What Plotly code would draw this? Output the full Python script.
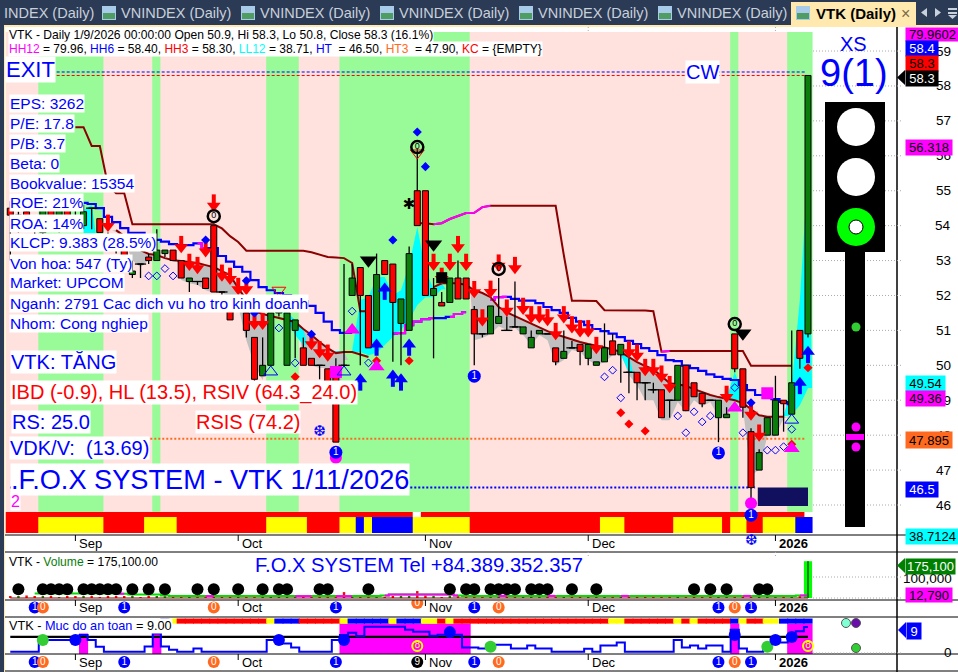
import plotly.graph_objects as go

N = 99
FONT = "Liberation Sans"
# ---- OHLC (top row of each block = bars 0-9 etc.)
opens = [54.5,53.9,54.4,54.0,53.8,54.6,53.9,54.5,54.1,54.0,
 54.5,54.2,53.7,53.5,53.3,52.6,52.9,53.1,53.0,53.2,
 53.3,53.0,52.4,52.4,52.5,54.0,52.1,51.9,51.7,51.5,
 50.8,49.7,50.0,51.5,50.0,51.0,50.5,50.2,50.0,49.9,
 49.9,50.0,52.0,52.8,52.0,51.0,53.0,52.9,51.2,51.0,
 55.0,55.0,52.0,51.8,51.8,52.5,52.5,51.6,50.9,50.9,
 51.2,51.0,51.1,50.9,50.5,50.9,50.9,50.5,50.2,50.5,
 50.6,50.2,50.0,50.1,50.7,50.3,49.8,49.8,49.5,49.3,
 49.3,49.0,49.0,50.0,49.5,49.2,49.0,48.5,48.5,50.9,
 49.9,48.1,47.0,48.0,48.0,49.0,48.6,51.0,50.9]
highs = [54.7,54.4,54.5,54.3,54.7,54.7,54.6,54.7,54.5,54.6,
 54.5,54.2,53.8,53.6,53.4,53.0,52.9,53.2,53.9,53.3,
 53.3,53.0,52.5,52.4,52.5,54.0,52.1,52.0,51.9,51.5,
 50.8,50.8,51.5,51.6,51.5,51.3,50.8,50.2,50.0,49.9,
 50.2,52.9,52.9,52.8,52.0,53.2,53.0,52.9,51.9,53.4,
 56.2,55.0,52.5,52.1,52.5,53.0,52.5,51.7,50.9,51.7,
 52.5,51.4,52.4,51.1,51.0,51.0,50.9,50.5,51.0,50.7,
 50.6,50.6,50.1,51.2,50.9,50.6,50.2,49.8,49.5,49.5,
 49.3,49.0,50.0,50.0,49.5,49.2,49.0,49.0,48.8,50.9,
 49.9,48.2,47.6,48.5,49.7,49.0,51.0,51.0,58.3]
lows = [53.0,53.8,53.9,53.7,53.7,53.9,53.8,54.0,53.9,53.9,
 53.9,53.8,53.4,53.2,52.8,52.5,52.5,52.9,53.0,53.1,
 53.0,52.5,52.1,52.3,52.2,52.1,51.9,51.3,51.6,50.8,
 49.5,49.7,50.0,51.4,50.0,50.2,50.0,50.0,49.6,49.4,
 47.8,50.0,52.0,50.0,50.5,51.0,52.6,50.1,50.0,51.0,
 54.0,52.0,50.2,51.7,51.8,51.9,51.9,50.0,50.8,50.9,
 51.2,51.0,51.1,50.9,50.5,50.9,50.9,50.0,50.2,50.5,
 50.0,50.0,50.0,50.1,50.3,49.5,49.2,49.0,49.0,49.2,
 48.5,48.5,49.0,48.7,49.1,48.8,49.0,47.8,48.5,49.8,
 48.5,46.1,47.0,48.0,48.0,48.1,48.6,49.9,50.8]
closes = [54.3,54.3,54.0,54.0,54.5,54.0,54.5,54.1,54.1,54.4,
 54.5,53.8,53.5,53.3,52.9,52.7,52.9,53.0,53.3,53.3,
 53.0,52.5,52.5,52.4,52.2,52.1,52.1,51.3,51.8,51.0,
 49.6,50.0,51.5,51.6,51.5,51.3,50.0,50.0,50.0,49.4,
 47.8,50.0,52.5,52.0,50.5,52.6,52.6,51.8,51.9,53.2,
 54.0,52.0,52.2,51.7,52.5,51.9,51.9,50.9,50.9,51.7,
 51.4,51.0,51.1,51.1,50.8,51.0,50.9,50.1,50.4,50.5,
 50.4,50.6,50.1,50.5,50.3,50.6,49.8,49.5,49.5,49.3,
 48.5,49.0,50.0,48.7,49.1,48.9,49.0,49.0,48.6,49.9,
 48.8,46.5,47.5,48.5,49.0,48.9,49.5,50.2,58.3]

# ---- upper stop line, ema line, blue step line
_ = None
stop_line = [_,_,_,_,_,_,_,_,56.82,56.82,
 56.28,56.28,55.16,54.93,54.93,54.04,54.04,54.04,54.04,54.04,
 54.04,54.04,54.04,54.04,54.04,54.04,53.92,53.70,53.53,53.28,
 53.28,53.28,53.28,53.28,53.28,53.28,53.28,53.24,53.16,53.10,
 53.09,53.07,52.93,51.55,51.55,_,_,_,_,_,
 54.07,54.07,54.04,54.07,54.19,54.27,54.36,54.37,54.53,54.57,
 54.57,54.57,54.57,54.57,54.57,54.57,54.57,54.57,53.16,51.85,
 51.85,51.85,51.84,51.58,51.58,51.58,51.58,51.58,51.57,51.55,
 50.39,50.41,50.41,50.41,50.41,50.41,50.41,50.41,50.41,50.41,
 50.41,49.99,49.99,49.99,49.99,49.99,49.99,_,_]
ema_line = [_,_,_,_,_,_,_,_,_,_,
 _,_,_,53.87,53.70,53.50,53.30,53.19,53.16,53.07,
 53.01,52.99,52.96,52.93,52.87,52.81,52.70,52.58,52.21,51.87,
 51.55,51.47,51.41,51.35,51.30,51.24,51.04,50.87,50.67,50.49,
 50.35,50.38,50.38,50.32,50.24,_,_,_,_,_,
 _,_,52.24,52.35,52.35,52.35,52.30,52.15,52.07,51.95,
 51.67,51.52,51.41,51.30,51.21,51.10,50.98,50.89,50.81,50.75,
 50.67,50.61,50.56,50.52,50.46,50.38,50.24,50.09,49.98,49.89,
 49.69,49.49,49.46,49.41,49.32,49.23,49.15,49.09,49.05,49.00,
 48.92,48.75,48.57,48.53,48.53,48.53,_,_,_]
gray_low = [_,_,_,_,_,_,_,_,_,_,
 _,_,_,53.82,53.59,53.01,52.81,53.01,53.13,_,
 _,52.44,52.35,52.30,52.15,52.07,52.10,51.87,51.70,50.72,
 50.01,49.58,50.72,_,_,_,50.06,49.98,49.92,49.92,
 48.43,50.15,_,_,_,_,_,_,_,_,
 _,_,_,_,_,_,_,50.72,50.78,50.89,
 51.12,51.01,51.07,50.87,50.58,50.87,50.72,50.01,50.15,50.44,
 50.38,50.15,50.01,50.09,50.29,50.35,49.72,49.43,49.0,49.0,
 48.43,48.43,48.95,48.66,49.0,48.83,48.95,48.52,48.49,49.0,
 48.78,46.86,47.0,47.97,47.97,48.49,_,_,_]
cyan_top = [_,_,_,_,_,_,_,_,_,54.45,
 54.59,_,_,_,_,_,_,_,_,_,
 _,_,_,_,_,_,_,_,_,_,
 _,_,_,_,51.52,51.30,51.04,_,_,_,
 50.41,50.41,50.41,51.87,51.95,52.53,52.53,52.01,52.15,52.87,
 53.96,52.73,52.18,52.35,_,_,_,_,_,_,
 _,_,_,_,_,_,_,_,_,_,
 _,_,_,_,_,50.35,50.29,_,_,_,
 _,_,_,_,_,_,_,_,49.06,49.81,
 49.15,_,_,_,_,48.55,49.43,51.87,55.62]
cyan_low = [_,_,_,_,_,_,_,_,_,53.79,
 53.79,_,_,_,_,_,_,_,_,_,
 _,_,_,_,_,_,_,_,_,_,
 _,_,_,_,51.30,50.87,50.58,_,_,_,
 50.35,50.35,50.35,50.38,50.29,50.35,50.58,50.81,51.01,51.30,
 51.73,51.95,51.95,52.18,_,_,_,_,_,_,
 _,_,_,_,_,_,_,_,_,_,
 _,_,_,_,_,50.30,49.80,_,_,_,
 _,_,_,_,_,_,_,_,49.0,49.0,
 49.0,_,_,_,_,48.53,48.58,48.86,49.35]
step_line = [_,_,_,_,_,_,_,_,_,54.65,
 54.62,54.50,54.25,54.10,53.93,53.79,53.79,53.67,53.59,53.54,
 53.47,53.44,53.44,53.49,53.36,53.36,53.13,52.97,52.82,52.68,
 52.44,52.24,52.15,52.07,52.01,51.98,51.84,51.70,51.50,51.25,
 51.01,50.93,50.93,_,_,_,_,50.91,50.92,51.15,
 51.25,51.32,51.35,51.35,51.39,51.47,51.52,_,_,51.87,
 51.95,51.96,51.90,51.85,51.85,51.78,51.67,51.58,51.50,51.36,
 51.25,51.15,51.04,50.98,50.91,50.81,50.70,50.61,50.49,50.41,
 50.29,50.15,50.12,49.99,49.92,49.84,49.74,49.67,49.61,49.58,
 49.43,49.29,49.15,49.09,49.03,48.95,48.89,_,49.35]
step_magenta_runs = [(23,24),(47,52),(54,56),(59,61)]

# ---- state of each bar
green_bars = [4,5,6,7,8,9,10,11,18,32,33,34,35,41,42,43,44,45,46,47,48,49,50,51,52,53,54,55,56,89,96,97,98]
strip_runs = [("r",4),("y",8),("r",5),("y",4),("r",11),("y",5),("r",4),("y",2),("b",1),("y",1),("b",5),
              ("y",7),("r",16),("y",3),("r",6),("y",6),("r",1),("y",2),("r",2),("y",4),("b",2)]
safety_strip_runs = [("n",19),("b",1),("y",1),("r",11),("y",1),("b",3),("r",5),("y",1),("b",5),("y",1),("b",3),
                     ("y",2),("r",1),("y",1),("r",19),("y",2),("r",6),("y",1),("r",1),("y",1),("r",4),
                     ("b",1),("y",1),("r",2),("y",2),("b",4)]

# ---- markers: (bar, price)
red_arrow_bar = [12,21,22,23,24,25,26,27,28,29,30,31,37,38,39,52,53,54,55,56,57,58,59,60,61,62,63,64,65,66,67,68,69,70,71,72,76,77,78,79,80,81,88,91,92]
red_arrow_px = [53.82,53.21,52.70,52.61,53.09,54.40,52.39,52.30,52.01,52.01,51.01,51.01,50.43,50.20,50.10,52.70,52.30,52.70,53.21,52.70,51.92,51.11,51.93,52.68,51.39,52.61,51.44,51.20,51.20,51.12,50.72,51.20,50.91,50.80,50.80,50.32,50.20,50.10,49.69,49.69,49.50,49.20,48.92,48.41,47.81]
blue_arrow_bar = [43,45,46,47,48,49,97,98]
blue_arrow_px = [49.77,50.77,52.37,49.88,49.77,50.77,49.67,50.56]
blue_diam = [(50,56.68),(51,55.69),(47,53.59),(24,53.59),(29,52.42),(30,51.50),(37,50.89),(40,49.81),(91,48.93)]
red_diam = [(45,50.13),(49,50.13),(96,47.74),(98,49.93),(75,48.64),(76,48.32),(78,48.12),(35,49.67)]
open_diam = [(42,51.55),(44,50.07),(19,52.77),(20,52.56),(33,51.07),(35,50.07),(17,52.56),(18,52.56),(73,49.67),(74,49.86),(75,49.07),(82,48.55),(83,48.07),(84,48.67),(85,48.38),(86,48.55),(89,49.36),(90,48.07),(93,47.57),(94,47.57),(95,47.67),(96,48.17)]
mag_tri = [(42,51.01),(45,49.96),(89,48.78),(96,47.62)]
blue_open_tri = [(96,48.43),(41,49.81),(32,49.81)]
red_open_tri = [(50,56.08),(33,52.15)]
black_tri = [(44,53.01),(52,53.47),(90,50.92)]
black_sq = [(53,52.51)]
mag_sq = [(93,49.2),(40,49.81)]
mag_dot = [(91,46.05),(40,47.35)]
one_dot = [(57,49.69),(40,47.51),(87,47.49),(91,45.71)]
zero_ring = [(25,54.27),(50,56.25),(60,52.76),(89,51.18)]

# ---- levels
hh6, hh3, ht3, ht = 58.4, 58.3, 47.895, 46.5
price_ticks = [46,47,48,49,50,51,52,53,54,55,56,57,58,59]
month_bars = [8,28,51,71,94]
month_names = ["Sep","Oct","Nov","Dec","<b>2026</b>"]

# ---- volume pane
volumes = [8,6,12,5,9,6,4,7,5,6,
 9,4,6,5,7,5,4,6,5,7,
 4,6,3,5,4,8,5,3,6,4,
 7,5,4,3,6,5,8,4,6,5,
 7,28,6,5,7,9,4,6,8,5,
 33,12,6,4,8,5,6,7,4,5,
 6,8,4,5,6,3,4,7,5,6,
 4,3,5,6,4,3,5,4,6,5,
 3,4,7,5,6,4,3,9,5,8,
 6,12,4,5,3,14,8,9,175.1]
vol_ma = [_,_,_,22,22,22,22,22,22,22,22,22,22,22,20,17,17,17,17,12,
 9,9,9,9,9,9,9,9,9,9,9,9,9,9,9,9,9,9,9,9,
 9,9,9,9,9,9,12,17,17,17,17,17,17,17,17,12,10,10,10,10,
 10,10,10,10,10,10,10,10,10,10,10,10,10,10,10,10,10,10,10,10,
 10,10,10,10,10,10,10,10,10,10,10,10,10,10,10,10,10,12,12]
vol_ma_magenta = [13,14,24,25,35,36,37,40,41,42,46,47,48,49,50,51,52,53,54,55,60,61,66,67,75,76,90,91,97,98]
vol_dots = [1,4,5,6,7,9,10,11,12,13,15,17,19,23,25,28,31,33,34,38,39,44,54,56,57,59,60,61,62,64,65,66,69,72,84,86,88,92,93]

# ---- safety pane
safety = [0.3,0.3,0.3,0.3,4.4,4.4,4.4,4.4,4.4,6.2,
 4.4,2,0.3,0.3,0.3,0.3,0.3,2.1,6.7,2.1,
 1,0.3,0.3,1.4,0.3,0.3,0.3,0.3,0.3,0.3,
 0.3,0.3,4.4,4.4,3.2,1.8,0.3,0.3,0.3,0.3,
 4.4,6.2,7,5.8,9.1,9.1,9.1,9.1,9.1,8,
 7.3,7.3,5.9,6.3,6.3,6.3,1.8,1.8,1.4,2.7,
 2.7,2.7,1.4,1.4,2.5,1.4,1.4,0.3,0.3,0.3,
 0.3,1.3,0.3,2.5,2.5,3.5,0.3,0.3,0.3,0.3,
 0.3,0.3,4.4,1.8,2.5,1.4,2.5,2.5,0.3,8,
 1.4,0.3,0.3,2.5,3.9,3.5,5.2,7.5,9]
safety_level = 5.5
safety_mag_high = {9:6.9,18:6.9,89:10.2,96:10.2,97:10.2,98:10.2}
for k in range(41,57):
    safety_mag_high[k] = 10.2
safety_green = [(4,4.4),(59,2),(93,2)]
safety_blue = [(8,4.4),(33,4.4),(41,4.4),(54,7.2),(89,6.2),(94,4.4),(96,5.5)]
safety_eight = [(50,2.3),(98,2.3)]
badge_blue = [3,14,40,57,87,91]
badge_orange = [4,25,60,89]

assert all(len(a)==N for a in [opens,highs,lows,closes,stop_line,ema_line,gray_low,cyan_top,cyan_low,step_line,volumes,vol_ma,safety])

# ---- geometry of the page
W, H = 958, 672
PX0, PXS = 10.28, 8.14
xr = [(0-PX0)/PXS, (W-PX0)/PXS]
def X(p): return p/W
def Y(p): return 1-p/H
def price_at(py): return 46+(505-py)/34.92
BAR_BOTTOM = price_at(512)
BAR_TOP = price_at(32)
SEAM = 1.12

RED, GRN, BLUE, MAG = "#FF0000", "#0A7D0A", "#0000FF", "#FF00FF"
codes = {"r":RED,"y":"#FFFF00","b":BLUE,"n":"rgba(0,0,0,0)"}
def expand(runs):
    out=[]
    for c_,n in runs: out += [codes[c_]]*n
    return out

fig = go.Figure()
idx = list(range(N))
def scat(x,y,axis="y",**kw):
    kw.setdefault("mode","lines")
    fig.add_trace(go.Scatter(x=x,y=y,yaxis=axis,showlegend=False,hoverinfo="skip",**kw))
def pts(lst,axis,**kw):
    kw.setdefault("mode","markers")
    scat([a for a,_b in lst],[b for _a,b in lst],axis,**kw)
def polys(top,bot):
    xs,ys=[],[]
    i=0
    while i<N:
        if top[i] is None or bot[i] is None: i+=1; continue
        j=i
        while j+1<N and top[j+1] is not None and bot[j+1] is not None: j+=1
        rng=list(range(i,j+1))
        xs += [rng[0]-0.5]+rng+[rng[-1]+0.5]+rng[::-1]+[None]
        ys += [top[i]]+[top[k] for k in rng]+[bot[j]]+[bot[k] for k in rng[::-1]]+[None]
        i=j+1
    return xs,ys

# background of bars
fig.add_trace(go.Bar(x=idx,y=[BAR_TOP-BAR_BOTTOM]*N,base=[BAR_BOTTOM]*N,width=SEAM,yaxis="y",showlegend=False,hoverinfo="skip",
    marker=dict(color=["#98FB98" if i in green_bars else "#FFE2DE" for i in idx],line_width=0)))
# bottom strips
row1 = [RED]*N; row1[50]="#FFFFFF"; row1[98]="rgba(0,0,0,0)"
fig.add_trace(go.Bar(x=idx,y=[price_at(517)-price_at(512)]*N,base=[BAR_BOTTOM]*N,width=SEAM,yaxis="y",showlegend=False,hoverinfo="skip",
    marker=dict(color=row1,line_width=0)))
fig.add_trace(go.Bar(x=idx,y=[price_at(517)-price_at(533)]*N,base=[price_at(533)]*N,width=SEAM,yaxis="y",showlegend=False,hoverinfo="skip",
    marker=dict(color=expand(strip_runs),line_width=0)))
# fills
x1,y1 = polys(ema_line,gray_low)
scat(x1,y1,fill="toself",fillcolor="#C0C0C0",line=dict(width=0))
x1,y1 = polys(cyan_top,cyan_low)
scat(x1,y1,fill="toself",fillcolor="#00FFFF",line=dict(width=0))
# lines
scat(idx,step_line,line=dict(color=BLUE,width=2.2,shape="hvh"))
for a,b in step_magenta_runs:
    scat(list(range(a,b+1)),step_line[a:b+1],line=dict(color=MAG,width=2.2,shape="hvh"))
scat(idx,ema_line,line=dict(color="#8B0000",width=2))
scat(idx,stop_line,line=dict(color="#8B0000",width=2))
for r in ([52,53,54,55,56,57,58,59],[80,81]):
    scat(r,[stop_line[k] for k in r],line=dict(color=MAG,width=2))
# level lines
scat([5.7,97.7],[hh6,hh6],line=dict(color=BLUE,width=1,dash="3px,2px"))
scat([5.7,97.7],[hh3,hh3],line=dict(color=RED,width=1,dash="3px,2px"))
scat([0,97.6],[ht3,ht3],line=dict(color="#FF6A20",width=2,dash="2px,2px"))
scat([0,91.5],[ht,ht],line=dict(color=BLUE,width=2,dash="2px,2px"))

# candles on overlay axis
wx,wy=[],[]
for i in idx:
    top,bot=max(opens[i],closes[i]),min(opens[i],closes[i])
    if highs[i]>top: wx+=[i,i,None]; wy+=[highs[i],top,None]
    if lows[i]<bot: wx+=[i,i,None]; wy+=[bot,lows[i],None]
fig.add_trace(go.Bar(x=idx,y=[abs(opens[i]-closes[i]) for i in idx],base=[min(opens[i],closes[i]) for i in idx],
    width=0.74,yaxis="y4",showlegend=False,hoverinfo="skip",
    marker=dict(color=[GRN if closes[i]>opens[i] else RED for i in idx],line=dict(color="#000000",width=1))))
scat(wx,wy,"y4",line=dict(color="#000000",width=1.3))
doji=[i for i in idx if abs(opens[i]-closes[i])<0.01]
scat(doji,[opens[i] for i in doji],"y4",mode="markers",marker=dict(symbol="line-ew",size=8,line=dict(color="#000000",width=1.3)))

# arrows
k = 1/34.92
scat(red_arrow_bar,[p+11*k for p in red_arrow_px],"y4",mode="markers",marker=dict(symbol="line-ns",size=9,line=dict(color=RED,width=4)))
scat(red_arrow_bar,[p+6*k for p in red_arrow_px],"y4",mode="markers",marker=dict(symbol="triangle-down",size=12,color=RED,line_width=0))
scat(blue_arrow_bar,[p-11*k for p in blue_arrow_px],"y4",mode="markers",marker=dict(symbol="line-ns",size=9,line=dict(color=BLUE,width=4)))
scat(blue_arrow_bar,[p-6*k for p in blue_arrow_px],"y4",mode="markers",marker=dict(symbol="triangle-up",size=12,color=BLUE,line_width=0))
pts(blue_diam,"y4",marker=dict(symbol="diamond",size=7,color=BLUE,line_width=0))
pts(red_diam,"y4",marker=dict(symbol="diamond",size=7,color=RED,line_width=0))
pts(open_diam,"y4",marker=dict(symbol="diamond-open",size=6,color=BLUE,line=dict(width=1,color=BLUE)))
pts(mag_sq,"y4",marker=dict(symbol="square",size=12,color=MAG,line_width=0))
pts(mag_tri,"y4",marker=dict(symbol="triangle-up",size=14,color=MAG,line_width=0))
pts(blue_open_tri,"y4",marker=dict(symbol="triangle-up-open",size=12,color=BLUE,line=dict(width=1,color=BLUE)))
pts(red_open_tri,"y4",marker=dict(symbol="triangle-down-open",size=12,color=RED,line=dict(width=1,color=RED)))
pts(black_tri,"y4",marker=dict(symbol="triangle-down",size=15,color="#000000",line_width=0))
pts(black_sq,"y4",marker=dict(symbol="square",size=11,color="#000000",line_width=0))
pts(mag_dot,"y4",marker=dict(symbol="circle",size=12,color=MAG,line_width=0))
pts(one_dot,"y4",mode="markers+text",text=["1"]*len(one_dot),textposition="middle center",textfont=dict(family=FONT,size=10,color="#FFFFFF"),
    marker=dict(symbol="circle",size=13,color=BLUE,line_width=0))
pts(zero_ring,"y4",mode="markers+text",text=["0"]*len(zero_ring),textposition="middle center",textfont=dict(family=FONT,size=9,color="#000000"),
    marker=dict(symbol="circle-open",size=12,color="#000000",line=dict(width=2.5,color="#000000")))
scat([49],[54.59],"y4",mode="text",text=["\u2731"],textposition="middle center",textfont=dict(family="DejaVu Sans",size=15,color="#000000"))
scat([38],[48.07],"y4",mode="text",text=["\u2746"],textposition="middle center",textfont=dict(family="DejaVu Sans",size=15,color=BLUE))

# volume pane
fig.add_trace(go.Bar(x=idx,y=[v*1000 for v in volumes[:-1]]+[None],width=0.3,yaxis="y2",showlegend=False,hoverinfo="skip",
    marker=dict(color=[GRN if closes[i]>opens[i] else RED for i in idx],line_width=0)))
fig.add_trace(go.Bar(x=[98],y=[volumes[98]*1000],width=1,yaxis="y2",showlegend=False,hoverinfo="skip",
    marker=dict(color="#00FF00",line_width=0)))
scat(idx,[0]*N,"y2",line=dict(color="#8B0000",width=1))
scat(idx,[None if v is None else v*1000 for v in vol_ma],"y2",line=dict(color="#00E000",width=2,shape="hvh"))
mg=[(vol_ma[i]*1000 if (i in vol_ma_magenta and vol_ma[i] is not None) else None) for i in idx]
scat(idx,mg,"y2",line=dict(color=MAG,width=2,shape="hvh"))
scat([98,98],[0,volumes[98]*1000],"y2",line=dict(color="#0A7D0A",width=2))
scat(vol_dots,[42000]*len(vol_dots),"y2",mode="markers",marker=dict(color="#000000",size=12,line_width=0))

# safety pane
mag_ids=sorted(safety_mag_high)
fig.add_trace(go.Bar(x=mag_ids,y=[safety_mag_high[i]+0.5 for i in mag_ids],base=[-0.5]*len(mag_ids),width=SEAM,yaxis="y3",showlegend=False,hoverinfo="skip",
    marker=dict(color=MAG,line_width=0)))
fig.add_trace(go.Bar(x=idx,y=[1.8]*N,base=[10.2]*N,width=SEAM,yaxis="y3",showlegend=False,hoverinfo="skip",
    marker=dict(color=expand(safety_strip_runs),line_width=0)))
scat([0,98],[safety_level,safety_level],"y3",line=dict(color="#000000",width=2.2))
scat(idx,safety,"y3",line=dict(color=BLUE,width=2,shape="hvh"))
pts(safety_green,"y3",marker=dict(size=12,color="#32CD32",line_width=0))
pts(safety_blue,"y3",marker=dict(size=12,color=BLUE,line_width=0))
pts(safety_eight,"y3",mode="markers+text",text=["8","8"],textposition="middle center",textfont=dict(family=FONT,size=10,color="#FFFF00"),
    marker=dict(symbol="circle-open",size=10,color="#FFFF00",line=dict(width=2,color="#FFFF00")))

# badge rows
def badges(ids,axis,yv,color,txt,tc="#FFFFFF"):
    scat(ids,[yv]*len(ids),axis,mode="markers+text",text=[txt]*len(ids),textposition="middle center",
         textfont=dict(family=FONT,size=10,color=tc),marker=dict(size=12,color=color,line_width=0))
badges(badge_blue,"y5",0.56,BLUE,"1")
badges(badge_orange,"y5",0.56,"#FF6A20","0")
badges([50],"y5",0.82,"#FF6A20","0")
badges(badge_blue,"y6",0.55,BLUE,"1")
badges(badge_orange,"y6",0.55,"#FF6A20","0")
badges([50],"y6",0.55,"#000000","9")

# ---- page furniture
shapes=[]
def rect(x0,y0,x1,y1,color,layer="above"):
    shapes.append(dict(type="rect",xref="paper",yref="paper",x0=X(x0),x1=X(x1),y0=Y(y0),y1=Y(y1),fillcolor=color,line_width=0,layer=layer))
def hline(y,x0=5,x1=958,color="#000000",w=1,dash="solid"):
    shapes.append(dict(type="line",xref="paper",yref="paper",x0=X(x0),x1=X(x1),y0=Y(y),y1=Y(y),line=dict(color=color,width=w,dash=dash),layer="above"))
def circ(cx,cy,r,color,lw=0,lc="#000000"):
    shapes.append(dict(type="circle",xref="paper",yref="paper",x0=X(cx-r),x1=X(cx+r),y0=Y(cy+r),y1=Y(cy-r),fillcolor=color,line=dict(width=lw,color=lc),layer="above"))
def tri(points,color):
    path="M "+" L ".join(f"{X(a)},{Y(b)}" for a,b in points)+" Z"
    shapes.append(dict(type="path",xref="paper",yref="paper",path=path,fillcolor=color,line_width=0,layer="above"))

NAVY="#2C3B55"
rect(0,0,958,25,NAVY)
rect(0,0,4,672,NAVY)
rect(4,25,958,27,"#FFE9AE")
rect(4,25,5,672,"#FFE9AE")
rect(791,2,916,25,"#FFE9AE")
for ix in [102,241,380,519,658,796]:
    rect(ix,6,ix+14,20,"#A9CBEA")
    rect(ix+1,13,ix+13,19,"#4F9D63")
tri([(927,8),(927,17),(921,12.5)],"#C8D0DC")
tri([(935,8),(935,17),(941,12.5)],"#C8D0DC")
rect(948,8,957,10,"#C8D0DC"); rect(948,12,957,14,"#C8D0DC")
tri([(948,15),(957,15),(952.5,19)],"#C8D0DC")

for y in [535,552,600,617,654,671]:
    hline(y)
shapes.append(dict(type="line",xref="paper",yref="paper",x0=X(897),x1=X(897),y0=Y(27),y1=Y(672),line=dict(color="#000000",width=1.5),layer="above"))
# tick dots on the right
for p in price_ticks:
    shapes.append(dict(type="line",xref="paper",yref="y",x0=X(813),x1=X(902),y0=p,y1=p,line=dict(color="#AAAAAA",width=1,dash="1px,2px"),layer="above"))
hline(577,813,902,"#AAAAAA",1,"1px,2px")
hline(598,813,902,"#AAAAAA",1,"1px,2px")
hline(653,813,902,"#AAAAAA",1,"1px,2px")
# month ticks
for m in month_bars:
    for yy0,yy1 in [(535,541),(600,606),(654,660)]:
        shapes.append(dict(type="line",xref="x",yref="paper",x0=m,x1=m,y0=Y(yy0),y1=Y(yy1),line=dict(color="#000000",width=1),layer="above"))
for m in month_bars[3:]:
    for yy0,yy1 in [(27,32),(552,558)]:
        shapes.append(dict(type="line",xref="x",yref="paper",x0=m,x1=m,y0=Y(yy0),y1=Y(yy1),line=dict(color="#AAAAAA",width=1,dash="1px,2px"),layer="above"))
# resistance box
shapes.append(dict(type="rect",xref="x",yref="y",x0=91.83,x1=98,y0=price_at(506),y1=ht,fillcolor="#10105F",line_width=0,layer="above"))
# traffic light
rect(825,102,885,252,"#000000")
rect(845,252,865,527,"#000000")
circ(856,127,19,"#FFFFFF")
circ(856,177,19,"#FFFFFF")
circ(856,227,19,"#00FF00")
circ(856,227,7,"#FFFFFF",1,"#000000")
circ(856,327,4.5,"#32CD32")
circ(856,427,4.5,MAG)
circ(856,447,4.5,MAG)
rect(846,434,864,440,MAG)
circ(846,623,4.5,"#7FFFD4",1,"#555555")
circ(856,623,4.5,"#6A0DAD",1,"#555555")
circ(856,648,4.5,"#32CD32",1,"#555555")

ann=[]
def txt(x,y,text,size,color="#000000",bg=None,anchor="left",bold=False,font=FONT):
    a=dict(xref="paper",yref="paper",x=X(x),y=Y(y),text=f"<b>{text}</b>" if bold else text,showarrow=False,
           xanchor=anchor,yanchor="middle",font=dict(family=font,size=size,color=color),borderpad=0)
    if bg: a["bgcolor"]=bg
    ann.append(a)
def tag(x0,y0,x1,y1,text,bg,fg,size=13):
    ann.append(dict(xref="paper",yref="paper",x=X(x0),y=Y(y0),text=text,showarrow=False,xanchor="left",yanchor="top",
        width=x1-x0,height=y1-y0,bgcolor=bg,font=dict(family=FONT,size=size,color=fg),align="center",valign="middle",borderpad=0))

# price axis (under the tags)
for p in price_ticks:
    ann.append(dict(xref="paper",yref="y",x=X(953),y=p,text=str(p),showarrow=False,xanchor="right",yanchor="middle",
                    font=dict(family=FONT,size=13.5,color="#000000")))
# tab strip
txt(3,13,"INDEX (Daily)",14.5,"#C8D0DC")
for tx in [120,259,398,537,676]:
    txt(tx,13,"VNINDEX (Daily)",14.5,"#C8D0DC")
txt(815,13,"VTK (Daily)",15,"#000000",bold=True)
txt(905,13,"\u00d7",16,"#7A6A4A",anchor="center")

WHITE="#FFFFFF"
txt(8,35,"VTK - Daily 1/9/2026 00:00:00 Open 50.9, Hi 58.3, Lo 50.8, Close 58.3 (16.1%)",12.1,"#000000",WHITE)
def c(col,t): return f'<span style="color:{col}">{t}</span>'
txt(8,49,c(MAG,"HH12")+" = 79.96, "+c(BLUE,"HH6")+" = 58.40, "+c(RED,"HH3")+" = 58.30, "+c("#00FFFF","LL12")+" = 38.71, "+c(BLUE,"HT")+"\u00a0 = 46.50, "+c("#FF6A20","HT3")+"\u00a0 = 47.90, "+c(RED,"KC")+" = {EMPTY}",12,"#000000",WHITE)
txt(5,70,"EXIT",22,BLUE,WHITE)
left_lines=["EPS: 3262","P/E: 17.8","P/B: 3.7","Beta: 0","Bookvalue: 15354","ROE: 21%","ROA: 14%","KLCP: 9.383 (28.5%)","Von hoa: 547 (Ty)","Market: UPCOM","Nganh: 2791 Cac dich vu ho tro kinh doanh","Nhom: Cong nghiep"]
for n,t in enumerate(left_lines):
    txt(9,103+20*n,t,15.5,BLUE,WHITE)
txt(10,362,"VTK: T\u0102NG",20,BLUE,WHITE)
txt(10,392,"IBD (-0.9), HL (13.5), RSIV (64.3_24.0)",20,RED,WHITE)
txt(11,422,"RS: 25.0",20,BLUE,WHITE)
txt(195,422,"RSIS (74.2)",20,RED,WHITE)
txt(9,448,"VDK/V:\u00a0 (13.69)",20,BLUE,WHITE)
txt(10,479,".F.O.X SYSTEM - VTK 1/11/2026",27.2,BLUE,WHITE)
txt(10,501,"2",16,MAG,WHITE)
txt(685,72,"CW",20,BLUE,WHITE)
txt(853,44,"XS",20,BLUE,None,"center")
txt(853.5,73,"9(1)",38,BLUE,None,"center")
# months
for row in [543,607,662]:
    for m,t in zip(month_bars,month_names):
        ann.append(dict(xref="x",yref="paper",x=m,y=Y(row),text=t,showarrow=False,xanchor="left",xshift=2,yanchor="middle",
                        font=dict(family=FONT,size=13,color="#000000")))
tag(905,27,958,40,"79.9602",MAG,"#000000")
tag(905,40,937,55,"58.4",BLUE,"#FFFFFF")
tag(905,55,937,70,"58.3",RED,"#000000")
tri([(897,77.5),(905,70),(905,85)],"#000000")
tag(905,70,937,85,"58.3","#000000","#FFFFFF")
tag(905,139,951,154,"56.318",MAG,"#000000")
tag(905,375,944,390,"49.54","#00FFFF","#000000")
tag(905,390,944,405,"49.36",MAG,"#000000")
tag(905,431,951,447,"47.895","#FF6A20","#000000")
tag(905,481,937,496,"46.5",BLUE,"#FFFFFF")
tag(905,528,958,543,"38.7124","#00FFFF","#000000")
txt(953,578,"100,000",13.5,"#000000",None,"right")
tri([(897,565.5),(905,558),(905,573)],"#008000")
tag(905,558,954,573,"175,100","#008000","#FFFFFF")
tag(905,587,951,601,"12,790",MAG,"#000000")
tri([(898,630),(906,622),(906,638)],BLUE)
tag(906,622,920,638,"9",BLUE,"#FFFFFF")
txt(953,652,"0",13.5,"#000000",None,"right")
# pane titles
txt(8,562,"VTK - "+c("#0A7D0A","Volume")+" = 175,100.00",12.1,"#000000")
txt(254,565,"F.O.X SYSTEM Tel +84.389.352.357",20.2,BLUE)
txt(8,626,"VTK - "+c(BLUE,"Muc do an toan")+" = 9.00",12.7,"#000000",WHITE)
ann.append(dict(xref="x",yref="paper",x=91,y=Y(540),text="\u2746",showarrow=False,xanchor="center",yanchor="middle",
                font=dict(family="DejaVu Sans",size=15,color=BLUE)))

def yax(top,bot,rng,**kw):
    return dict(domain=[Y(bot),Y(top)],range=rng,visible=False,fixedrange=True,**kw)
pr=[price_at(535),price_at(27)]
fig.update_layout(
    width=W,height=H,margin=dict(l=0,r=0,t=0,b=0),autosize=False,
    paper_bgcolor="#FFFFFF",plot_bgcolor="rgba(0,0,0,0)",barmode="overlay",showlegend=False,
    font=dict(family=FONT),
    xaxis=dict(domain=[0,1],range=xr,visible=False,fixedrange=True),
    yaxis=yax(27,535,pr),
    yaxis4=dict(overlaying="y",range=pr,visible=False,fixedrange=True),
    yaxis2=yax(552,600,[-(2/21)*1e5,(598-552)/21*1e5]),
    yaxis3=yax(617,654,[(652.5-654)/2.83,(652.5-617)/2.83]),
    yaxis5=yax(600,617,[0,1]),
    yaxis6=yax(654,672,[0,1]),
    shapes=shapes,annotations=ann,
)
fig.write_html("out.html",config=dict(displayModeBar=False),
    post_script="document.body.style.margin='0';document.documentElement.style.overflow='hidden';document.body.style.overflow='hidden';")
